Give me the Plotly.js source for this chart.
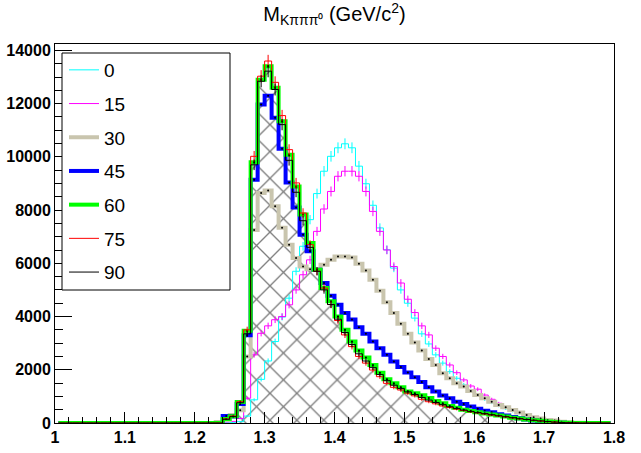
<!DOCTYPE html>
<html><head><meta charset="utf-8">
<script src="https://cdn.plot.ly/plotly-3.0.1.min.js"></script>
<style>html,body{margin:0;padding:0;background:#fff;}</style>
</head><body>
<div id="chart" style="width:641px;height:453px"></div>
<script>
// Histogram binning: 80 bins of width 0.01 from 1.0 to 1.8
const binLow = 1.0;
const binWidth = 0.01;
// bins 1.00 .. 1.22 are empty for every series
const emptyBins = [0,0,0,0,0,0,0,0,0,0,0,0,0,0,0,0,0,0,0,0,0,0,0];
// values for bins 1.23 .. 1.79
const seriesNames = ["0","15","30","45","60","75","90"];
const vals0  = [0,10,15,50,260,870,1640,2330,3060,3980,4690,5700,6640,7640,8620,9460,10020,10340,10490,10340,9650,8990,8180,7330,6510,5820,5000,4500,3940,3350,2970,2560,2250,1930,1680,1430,1220,1050,890,765,640,540,440,365,290,225,175,125,90,60,38,20,10,5,0,0,0];
const vals15 = [0,40,60,170,930,2560,3370,3650,3880,4000,4440,5000,5570,6130,7200,8040,8700,9270,9460,9460,9270,8700,7950,7200,6500,5880,5260,4650,4150,3650,3310,2810,2500,2180,1890,1620,1390,1270,1050,890,740,590,490,390,300,240,165,115,75,40,25,12,5,0,0,0,0];
const vals30 = [40,110,300,480,2500,7250,8640,8740,8140,7340,6700,6200,5880,5780,5760,5950,6130,6260,6260,6220,5980,5730,5380,4970,4540,4130,3730,3350,3020,2720,2400,2180,1870,1680,1490,1370,1200,1050,930,800,680,590,490,390,300,215,165,115,90,50,25,12,5,2,0,0,0];
const vals45 = [0,260,240,710,3300,9140,11970,12300,11470,10300,9040,8100,7070,6450,5760,5260,4780,4440,4130,3890,3600,3350,3060,2810,2560,2310,2100,1900,1720,1540,1340,1180,1030,930,800,715,620,540,460,400,330,280,225,175,130,95,60,35,18,8,3,0,0,0,0,0,0];
const vals60 = [0,150,250,790,3470,9800,12900,13400,12600,11340,10080,8890,7830,6760,5760,5070,4570,4000,3500,3060,2720,2460,2180,1890,1640,1490,1340,1180,1120,1040,940,830,740,640,570,500,450,400,360,320,280,240,200,165,135,105,80,55,35,20,10,4,0,0,0,0,0];
const vals75 = [0,150,260,800,3500,10020,13030,13600,12800,11550,10270,9020,7890,6700,5700,5070,4450,3850,3310,2870,2500,2250,1990,1740,1490,1340,1240,1120,1020,890,800,720,640,580,520,470,420,380,340,300,265,230,195,160,130,100,75,52,33,20,10,4,0,0,0,0,0];
const vals90 = [0,140,240,760,3350,9700,12840,13220,12530,11210,9870,8670,7600,6600,5700,5000,4450,3900,3400,2950,2600,2330,2080,1820,1590,1420,1300,1170,1070,960,860,770,690,610,545,485,435,390,350,310,270,235,198,162,132,102,77,53,34,20,10,4,0,0,0,0,0];
const xTickVals = [1,1.1,1.2,1.3,1.4,1.5,1.6,1.7,1.8];

const allVals = [vals0,vals15,vals30,vals45,vals60,vals75,vals90].map(v => emptyBins.concat(v));
const centers = allVals[0].map((_, i) => +(binLow + binWidth * (i + 0.5)).toFixed(3));

const styles = [
  {color:'#00ffff', width:1, thick:false},
  {color:'#ff00ff', width:1, thick:false},
  {color:'#c9c5ae', width:4, thick:true},
  {color:'#0000ff', width:4, thick:true},
  {color:'#00ff00', width:4, thick:true},
  {color:'#ff0000', width:1, thick:false},
  {color:'#000000', width:1, thick:false}
];

const traces = [];
// hatched area under the "90" histogram
traces.push({
  x: centers, y: allVals[6], type:'scatter', mode:'lines',
  line:{shape:'hvh', width:0, color:'rgba(0,0,0,0)'},
  fill:'tozeroy', fillcolor:'rgba(0,0,0,0)',
  fillpattern:{shape:'x', size:19, solidity:0.14, fgcolor:'#000000', bgcolor:'rgba(0,0,0,0)', fillmode:'overlay'},
  showlegend:false, hoverinfo:'skip'
});
allVals.forEach((v, k) => {
  const st = styles[k];
  const tr = {
    x: centers, y: v, type:'scatter', mode:'lines', name: seriesNames[k],
    legendgroup: 'g' + k,
    line:{shape:'hvh', width: st.width, color: st.color}
  };
  if (!st.thick) {
    tr.error_y = {type:'data', array: v.map(val => val > 0 ? 2 * Math.sqrt(val) : 0), visible:true, width:0, thickness:1, color: st.color};
  }
  traces.push(tr);
  if (st.thick) {
    traces.push({x: centers, y: v.map(val => val > 0 ? val : null), type:'scatter', mode:'markers',
      marker:{size:2, color:'#000000'}, showlegend:false, hoverinfo:'skip', legendgroup:'g'+k});
  }
});

const L = 55, R = 27, T = 44, B = 30;
const W = 641, H = 453;
const pw = W - L - R, ph = H - T - B;
const px = p => (p - L) / pw;
const py = p => (H - B - p) / ph;

const layout = {
  width: W, height: H,
  margin:{l:L, r:R, t:T, b:B, pad:0},
  paper_bgcolor:'#ffffff', plot_bgcolor:'#ffffff',
  font:{family:'Liberation Sans, Arial, sans-serif', color:'#000000'},
  title:{text:'M<sub>Kπππ⁰</sub> (GeV/c<sup>2</sup>)', font:{size:20, family:'Liberation Sans, Arial, sans-serif'}, x:0.5, xref:'paper', xanchor:'center', y:1, yref:'container', yanchor:'top', pad:{t:7}},
  xaxis:{range:[1,1.8], tickvals:xTickVals, ticktext:xTickVals.map(String), ticks:'inside', ticklen:11, tickcolor:'#000',
    minor:{dtick:0.02, tick0:1, ticks:'inside', ticklen:6, tickcolor:'#000'},
    showline:true, linecolor:'#000', linewidth:1, mirror:true, showgrid:false, zeroline:false,
    tickfont:{size:16, weight:'bold', family:'Liberation Sans, Arial, sans-serif'}},
  yaxis:{range:[0,14240], dtick:2000, tick0:0, tickformat:'d', ticks:'inside', ticklen:17, tickcolor:'#000',
    minor:{dtick:500, ticks:'inside', ticklen:8, tickcolor:'#000'},
    showline:true, linecolor:'#000', linewidth:1, mirror:true, showgrid:false, zeroline:false,
    tickfont:{size:16, weight:'bold', family:'Liberation Sans, Arial, sans-serif'}},
  showlegend:true,
  legend:{x:px(64), y:py(51), xanchor:'left', yanchor:'top', bgcolor:'rgba(0,0,0,0)', borderwidth:0,
    traceorder:'grouped', tracegroupgap:6, font:{size:19, family:'Liberation Sans, Arial, sans-serif'}},
  shapes:[{type:'rect', xref:'paper', yref:'paper', x0:px(62), x1:px(230), y0:py(290), y1:py(53),
    line:{color:'#000', width:1}, fillcolor:'#ffffff', layer:'above'}]
};

Plotly.newPlot('chart', traces, layout, {displayModeBar:false, staticPlot:true});
</script>
</body></html>
